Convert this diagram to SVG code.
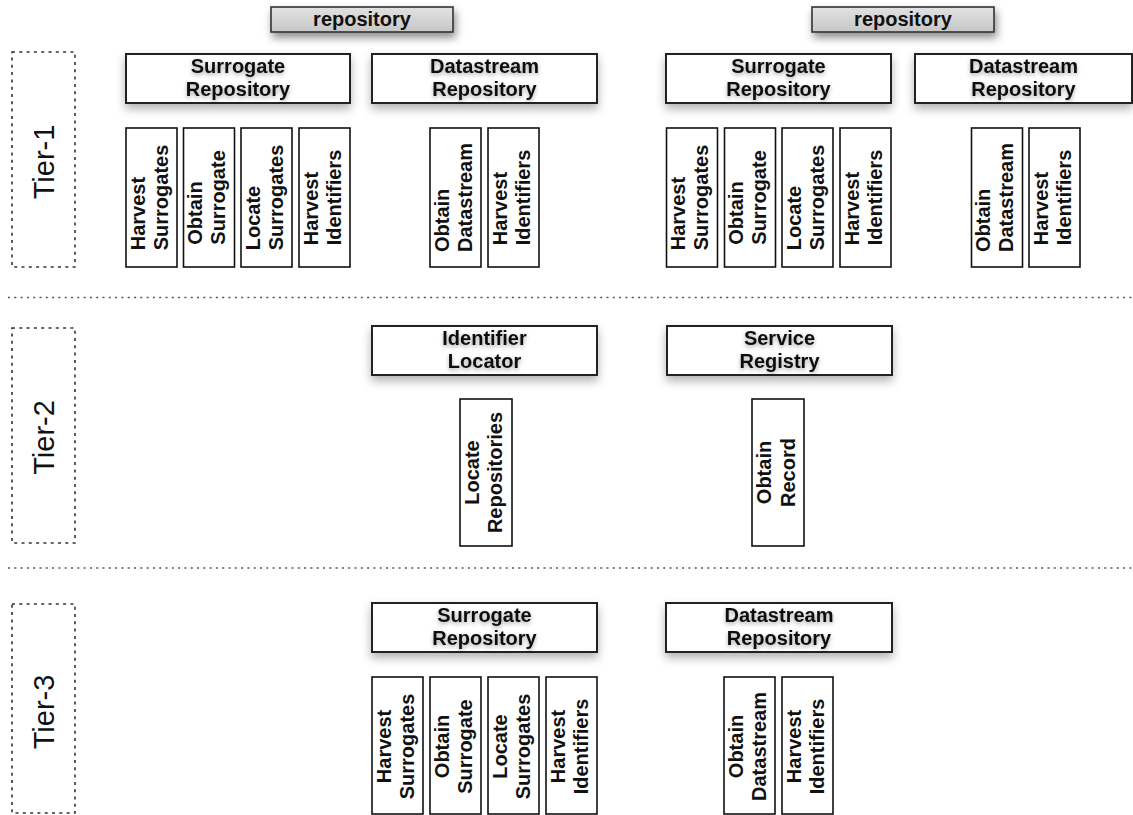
<svg xmlns="http://www.w3.org/2000/svg" width="1133" height="815" viewBox="0 0 1133 815">
<style>
  .big{fill:#fff;stroke:#222;stroke-width:2;filter:url(#sh)}
  .sub{fill:#fff;stroke:#111;stroke-width:1.6}
  .repo{fill:url(#gr);stroke:#333;stroke-width:1.6;filter:url(#sh2)}
  .lbl{font-family:"Liberation Sans",Arial,Helvetica,sans-serif;font-weight:bold;font-size:20px;fill:#111;text-anchor:middle}
  .st{text-anchor:start}
  .tl{filter:url(#ts)}
  .tier{font-family:"Liberation Sans",Arial,Helvetica,sans-serif;font-size:29px;fill:#111;text-anchor:middle}
  .tbox{fill:none;stroke:#333;stroke-width:1.6;stroke-dasharray:3 4.3}
  .sep{fill:none;stroke:#555;stroke-width:1.6;stroke-dasharray:2 4.3}
</style>
<defs>
  <linearGradient id="gr" x1="0" y1="0" x2="0" y2="1">
    <stop offset="0" stop-color="#e2e2e2"/>
    <stop offset="1" stop-color="#c6c6c6"/>
  </linearGradient>
  <filter id="sh" x="-10%" y="-30%" width="120%" height="180%">
    <feDropShadow dx="0" dy="5" stdDeviation="5" flood-color="#000" flood-opacity="0.3"/>
  </filter>
  <filter id="sh2" x="-10%" y="-40%" width="120%" height="220%">
    <feDropShadow dx="2" dy="5" stdDeviation="4" flood-color="#000" flood-opacity="0.45"/>
  </filter>
  <filter id="ts" x="-10%" y="-30%" width="120%" height="180%">
    <feDropShadow dx="0" dy="2" stdDeviation="2" flood-color="#000" flood-opacity="0.35"/>
  </filter>
</defs>

<g id="separators">
  <line class="sep" x1="8" y1="297.5" x2="1133" y2="297.5"/>
  <line class="sep" x1="8" y1="568" x2="1133" y2="568"/>
</g>
<g id="connectors"/>

<g id="tier1-label"><rect class="tbox" x="12" y="52" width="63" height="215"/><text class="tier" transform="translate(53.5,162) rotate(-90)">Tier-1</text></g>
<g id="tier2-label"><rect class="tbox" x="12" y="328" width="63" height="215"/><text class="tier" transform="translate(53.5,437.5) rotate(-90)">Tier-2</text></g>
<g id="tier3-label"><rect class="tbox" x="12" y="604" width="63" height="209"/><text class="tier" transform="translate(53.5,712) rotate(-90)">Tier-3</text></g>

<!-- Tier-1 left repository -->
<g id="repo-left"><rect class="repo" x="271" y="7" width="182" height="25"/><text class="lbl" x="362" y="25.5">repository</text></g>
<g id="t1l-surrogate-repo"><rect class="big" x="126" y="54" width="224" height="49"/><text class="lbl tl" x="238" y="73">Surrogate</text><text class="lbl tl" x="238" y="96">Repository</text></g>
<g id="t1l-datastream-repo"><rect class="big" x="372" y="54" width="225" height="49"/><text class="lbl tl" x="484.5" y="73">Datastream</text><text class="lbl tl" x="484.5" y="96">Repository</text></g>

<g id="t1l-harvest-surrogates"><rect class="sub" x="126" y="128" width="51" height="139"/><g transform="translate(151.5,197.5) rotate(-90)"><text class="lbl st" x="-52.8" y="-7">Harvest</text><text class="lbl st" x="-52.8" y="16">Surrogates</text></g></g>
<g id="t1l-obtain-surrogate"><rect class="sub" x="183.5" y="128" width="51" height="139"/><g transform="translate(209,197.5) rotate(-90)"><text class="lbl st" x="-47.2" y="-7">Obtain</text><text class="lbl st" x="-47.2" y="16">Surrogate</text></g></g>
<g id="t1l-locate-surrogates"><rect class="sub" x="241" y="128" width="51" height="139"/><g transform="translate(266.5,197.5) rotate(-90)"><text class="lbl st" x="-52.8" y="-7">Locate</text><text class="lbl st" x="-52.8" y="16">Surrogates</text></g></g>
<g id="t1l-harvest-identifiers"><rect class="sub" x="299" y="128" width="51" height="139"/><g transform="translate(324.5,197.5) rotate(-90)"><text class="lbl st" x="-47.8" y="-7">Harvest</text><text class="lbl st" x="-47.8" y="16">Identifiers</text></g></g>
<g id="t1l-obtain-datastream"><rect class="sub" x="430" y="128" width="51" height="139"/><g transform="translate(455.5,197.5) rotate(-90)"><text class="lbl st" x="-54.5" y="-7">Obtain</text><text class="lbl st" x="-54.5" y="16">Datastream</text></g></g>
<g id="t1l-ds-harvest-identifiers"><rect class="sub" x="488" y="128" width="51" height="139"/><g transform="translate(513.5,197.5) rotate(-90)"><text class="lbl st" x="-47.8" y="-7">Harvest</text><text class="lbl st" x="-47.8" y="16">Identifiers</text></g></g>

<!-- Tier-1 right repository -->
<g id="repo-right"><rect class="repo" x="812" y="7" width="182" height="25"/><text class="lbl" x="903" y="25.5">repository</text></g>
<g id="t1r-surrogate-repo"><rect class="big" x="666" y="54" width="225" height="49"/><text class="lbl tl" x="778.5" y="73">Surrogate</text><text class="lbl tl" x="778.5" y="96">Repository</text></g>
<g id="t1r-datastream-repo"><rect class="big" x="915" y="54" width="217" height="49"/><text class="lbl tl" x="1023.5" y="73">Datastream</text><text class="lbl tl" x="1023.5" y="96">Repository</text></g>

<g id="t1r-harvest-surrogates"><rect class="sub" x="666.5" y="128" width="51" height="139"/><g transform="translate(692,197.5) rotate(-90)"><text class="lbl st" x="-52.8" y="-7">Harvest</text><text class="lbl st" x="-52.8" y="16">Surrogates</text></g></g>
<g id="t1r-obtain-surrogate"><rect class="sub" x="724.5" y="128" width="51" height="139"/><g transform="translate(750,197.5) rotate(-90)"><text class="lbl st" x="-47.2" y="-7">Obtain</text><text class="lbl st" x="-47.2" y="16">Surrogate</text></g></g>
<g id="t1r-locate-surrogates"><rect class="sub" x="782" y="128" width="51" height="139"/><g transform="translate(807.5,197.5) rotate(-90)"><text class="lbl st" x="-52.8" y="-7">Locate</text><text class="lbl st" x="-52.8" y="16">Surrogates</text></g></g>
<g id="t1r-harvest-identifiers"><rect class="sub" x="840" y="128" width="51" height="139"/><g transform="translate(865.5,197.5) rotate(-90)"><text class="lbl st" x="-47.8" y="-7">Harvest</text><text class="lbl st" x="-47.8" y="16">Identifiers</text></g></g>
<g id="t1r-obtain-datastream"><rect class="sub" x="971.5" y="128" width="51" height="139"/><g transform="translate(997,197.5) rotate(-90)"><text class="lbl st" x="-54.5" y="-7">Obtain</text><text class="lbl st" x="-54.5" y="16">Datastream</text></g></g>
<g id="t1r-ds-harvest-identifiers"><rect class="sub" x="1029" y="128" width="51" height="139"/><g transform="translate(1054.5,197.5) rotate(-90)"><text class="lbl st" x="-47.8" y="-7">Harvest</text><text class="lbl st" x="-47.8" y="16">Identifiers</text></g></g>

<!-- Tier-2 -->
<g id="t2-identifier-locator"><rect class="big" x="372" y="326" width="225" height="49"/><text class="lbl tl" x="484.5" y="344.5">Identifier</text><text class="lbl tl" x="484.5" y="368">Locator</text></g>
<g id="t2-service-registry"><rect class="big" x="667" y="326" width="225" height="49"/><text class="lbl tl" x="779.5" y="344.5">Service</text><text class="lbl tl" x="779.5" y="368">Registry</text></g>
<g id="t2-locate-repositories"><rect class="sub" x="460" y="399" width="52" height="147"/><g transform="translate(486,472.5) rotate(-90)"><text class="lbl" y="-7.5">Locate</text><text class="lbl" y="16">Repositories</text></g></g>
<g id="t2-obtain-record"><rect class="sub" x="752" y="399" width="52" height="147"/><g transform="translate(778,472.5) rotate(-90)"><text class="lbl" y="-7">Obtain</text><text class="lbl" y="17">Record</text></g></g>

<!-- Tier-3 -->
<g id="t3-surrogate-repo"><rect class="big" x="372" y="603" width="225" height="49"/><text class="lbl tl" x="484.5" y="621.5">Surrogate</text><text class="lbl tl" x="484.5" y="645">Repository</text></g>
<g id="t3-datastream-repo"><rect class="big" x="666" y="603" width="226" height="49"/><text class="lbl tl" x="779" y="621.5">Datastream</text><text class="lbl tl" x="779" y="645">Repository</text></g>

<g id="t3-harvest-surrogates"><rect class="sub" x="372" y="677" width="51" height="137"/><g transform="translate(397.5,746.5) rotate(-90)"><text class="lbl" y="-7">Harvest</text><text class="lbl" y="16">Surrogates</text></g></g>
<g id="t3-obtain-surrogate"><rect class="sub" x="430" y="677" width="51" height="137"/><g transform="translate(455.5,746.5) rotate(-90)"><text class="lbl" y="-7">Obtain</text><text class="lbl" y="16">Surrogate</text></g></g>
<g id="t3-locate-surrogates"><rect class="sub" x="488" y="677" width="51" height="137"/><g transform="translate(513.5,746.5) rotate(-90)"><text class="lbl" y="-7">Locate</text><text class="lbl" y="16">Surrogates</text></g></g>
<g id="t3-harvest-identifiers"><rect class="sub" x="546" y="677" width="51" height="137"/><g transform="translate(571.5,746.5) rotate(-90)"><text class="lbl" y="-7">Harvest</text><text class="lbl" y="16">Identifiers</text></g></g>
<g id="t3-obtain-datastream"><rect class="sub" x="724" y="677" width="51" height="137"/><g transform="translate(749.5,746.5) rotate(-90)"><text class="lbl" y="-7">Obtain</text><text class="lbl" y="16">Datastream</text></g></g>
<g id="t3-ds-harvest-identifiers"><rect class="sub" x="782" y="677" width="51" height="137"/><g transform="translate(807.5,746.5) rotate(-90)"><text class="lbl" y="-7">Harvest</text><text class="lbl" y="16">Identifiers</text></g></g>
</svg>
